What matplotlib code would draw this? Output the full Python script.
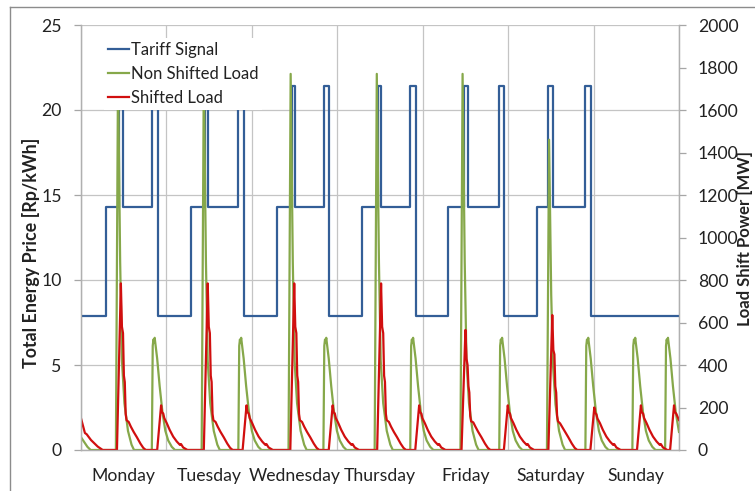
import matplotlib
matplotlib.use("Agg")
import matplotlib.pyplot as plt
from matplotlib.lines import Line2D

plt.rcParams['font.family'] = ['Lato', 'DejaVu Sans']

# ---------------- data ----------------
days = ['Monday', 'Tuesday', 'Wednesday', 'Thursday', 'Friday', 'Saturday', 'Sunday']

# Tariff signal: change points (hour of week) and price level from that hour on [Rp/kWh]
tariff_t = [0, 7.0, 10.75, 11.75, 20.0, 21.5,
            31.0, 34.9, 35.8, 44.2, 45.7,
            55.0, 59.3, 60.1, 68.3, 69.8,
            79.0, 83.3, 84.3, 92.5, 94.0,
            103.0, 107.6, 108.6, 117.4, 118.9,
            128.0, 131.2, 132.6, 141.6, 143.2,
            168]
tariff_price = [7.9, 14.3, 21.4, 14.3, 21.4, 7.9,
                14.3, 21.4, 14.3, 21.4, 7.9,
                14.3, 21.4, 14.3, 21.4, 7.9,
                14.3, 21.4, 14.3, 21.4, 7.9,
                14.3, 21.4, 14.3, 21.4, 7.9,
                14.3, 21.4, 14.3, 21.4, 7.9,
                7.9]

# Non shifted load [MW]
nonshifted_t = [0, 0.8, 1.8, 2.7,
                9.8, 10.4, 11.0, 11.5, 12.2, 13.2, 14.2, 14.9,
                19.9, 20.15, 20.35, 20.5, 20.7, 21.4, 22.1, 22.9, 23.7, 24.5, 25.5, 26.4,
                33.9, 34.5, 35.1, 35.6, 36.3, 37.3, 38.3, 39.0,
                44.2, 44.45, 44.65, 44.8, 45.0, 45.7, 46.4, 47.2, 48.0, 48.8, 49.8, 50.7,
                58.3, 58.9, 59.5, 60.0, 60.7, 61.7, 62.7, 63.4,
                68.1, 68.35, 68.55, 68.7, 68.9, 69.6, 70.3, 71.1, 71.9, 72.7, 73.7, 74.6,
                82.5, 83.1, 83.7, 84.2, 84.9, 85.9, 86.9, 87.6,
                92.5, 92.75, 92.95, 93.1, 93.3, 94.0, 94.7, 95.5, 96.3, 97.1, 98.1, 99.0,
                106.6, 107.2, 107.8, 108.3, 109.0, 110.0, 111.0, 111.7,
                117.5, 117.75, 117.95, 118.1, 118.3, 119.0, 119.7, 120.5, 121.3, 122.1, 123.1, 124.0,
                130.9, 131.5, 132.1, 132.6, 133.3, 134.3, 135.3, 136.0,
                141.7, 141.95, 142.15, 142.3, 142.5, 143.2, 143.9, 144.7, 145.5, 146.3, 147.3, 148.2,
                154.9, 155.15, 155.35, 155.5, 155.7, 156.4, 157.1, 157.9, 158.7, 159.5, 160.5, 161.4,
                164.1, 164.35, 164.55, 164.7, 164.9, 165.6, 166.3, 167.1, 168]
nonshifted_mw = [60, 40, 15, 0,
                 0, 1770, 885, 420, 220, 90, 25, 0,
                 0, 490, 520, 505, 528, 430, 300, 175, 90, 45, 15, 0,
                 0, 1770, 885, 420, 220, 90, 25, 0,
                 0, 490, 520, 505, 528, 430, 300, 175, 90, 45, 15, 0,
                 0, 1770, 885, 420, 220, 90, 25, 0,
                 0, 490, 520, 505, 528, 430, 300, 175, 90, 45, 15, 0,
                 0, 1770, 885, 420, 220, 90, 25, 0,
                 0, 490, 520, 505, 528, 430, 300, 175, 90, 45, 15, 0,
                 0, 1770, 885, 420, 220, 90, 25, 0,
                 0, 490, 520, 505, 528, 430, 300, 175, 90, 45, 15, 0,
                 0, 1460, 730, 400, 215, 90, 25, 0,
                 0, 490, 520, 505, 528, 430, 300, 175, 90, 45, 15, 0,
                 0, 490, 520, 505, 528, 430, 300, 175, 90, 45, 15, 0,
                 0, 490, 520, 505, 528, 430, 300, 175, 85]

# Shifted load [MW]
shifted_t = [0, 0.5, 1.1, 1.6, 2.8, 4.7, 6.1,
             10.1, 11.2, 11.5, 11.8, 12.05, 12.3, 12.55, 12.8, 13.4, 14.0, 14.8, 15.7, 16.7, 17.5, 18.2,
             21.4, 22.5, 22.75, 23.1, 23.4, 24.1, 24.9, 25.9, 26.9, 27.8, 28.1, 28.7, 29.9,
             34.5, 35.6, 35.9, 36.2, 36.45, 36.7, 36.95, 37.2, 37.8, 38.4, 39.2, 40.1, 41.1, 41.9, 42.6,
             45.4, 46.5, 46.75, 47.1, 47.4, 48.1, 48.9, 49.9, 50.9, 51.8, 52.1, 52.7, 53.9,
             58.8, 59.9, 60.2, 60.5, 60.75, 61.0, 61.25, 61.5, 62.1, 62.7, 63.5, 64.4, 65.4, 66.2, 66.9,
             69.6, 70.7, 70.95, 71.3, 71.6, 72.3, 73.1, 74.1, 75.1, 76.0, 76.3, 76.9, 78.1,
             83.2, 84.3, 84.6, 84.9, 85.15, 85.4, 85.65, 85.9, 86.5, 87.1, 87.9, 88.8, 89.8, 90.6, 91.3,
             93.9, 95.0, 95.25, 95.6, 95.9, 96.6, 97.4, 98.4, 99.4, 100.3, 100.6, 101.2, 102.4,
             106.9, 108.0, 108.3, 108.6, 108.85, 109.1, 109.35, 109.6, 110.2, 110.8, 111.6, 112.5, 113.5, 114.3, 115.0,
             118.8, 119.9, 120.15, 120.5, 120.8, 121.5, 122.3, 123.3, 124.3, 125.2, 125.5, 126.1, 127.3,
             131.3, 132.4, 132.7, 133.0, 133.25, 133.5, 133.75, 134.0, 134.6, 135.2, 136.0, 136.9, 137.9, 138.7, 139.4,
             143.1, 144.2, 144.45, 144.8, 145.1, 145.8, 146.6, 147.6, 148.6, 149.5, 149.8, 150.4, 151.6,
             156.2, 157.3, 157.55, 157.9, 158.2, 158.9, 159.7, 160.7, 161.7, 162.6, 162.9, 163.5, 164.7,
             165.5, 166.6, 166.85, 167.2, 168]
shifted_mw = [149, 118, 80, 74, 47, 16, 0,
              0, 784, 580, 550, 350, 320, 170, 140, 132, 110, 85, 60, 30, 10, 0,
              0, 210, 178, 172, 150, 126, 95, 63, 40, 24, 28, 12, 0,
              0, 784, 580, 550, 350, 320, 170, 140, 132, 110, 85, 60, 30, 10, 0,
              0, 210, 178, 172, 150, 126, 95, 63, 40, 24, 28, 12, 0,
              0, 784, 580, 550, 350, 320, 170, 140, 132, 110, 85, 60, 30, 10, 0,
              0, 210, 178, 172, 150, 126, 95, 63, 40, 24, 28, 12, 0,
              0, 784, 580, 550, 350, 320, 170, 140, 132, 110, 85, 60, 30, 10, 0,
              0, 210, 178, 172, 150, 126, 95, 63, 40, 24, 28, 12, 0,
              0, 565, 430, 400, 300, 270, 160, 135, 130, 110, 85, 60, 30, 10, 0,
              0, 210, 178, 172, 150, 126, 95, 63, 40, 24, 28, 12, 0,
              0, 635, 470, 450, 300, 270, 160, 135, 125, 108, 85, 60, 30, 10, 0,
              0, 200, 175, 168, 148, 126, 95, 63, 40, 24, 28, 12, 0,
              0, 210, 178, 172, 150, 126, 95, 63, 40, 24, 28, 12, 0,
              0, 210, 178, 172, 141]

price_ticks = [0, 5, 10, 15, 20, 25]
power_ticks = list(range(0, 2001, 200))

# ---------------- style ----------------
BLUE = '#335e97'
GREEN = '#86a84a'
RED = '#d10f0f'
GRID = '#c4c4c4'
TXT = '#222222'
FS_TICK = 12.7
FS_LEG = 12
FS_LAB = 12.9
FS_LAB_R = 12

W, H = 755, 491
fig = plt.figure(figsize=(W / 100, H / 100), dpi=100)
L, R, T, B = 81, 679, 25, 450
ax = fig.add_axes([L / W, 1 - B / H, (R - L) / W, (B - T) / H])
ax2 = ax.twinx()

ax.step(tariff_t, tariff_price, where='post', color=BLUE, lw=1.6,
        label='Tariff Signal', zorder=3)
ax2.plot(nonshifted_t, nonshifted_mw, color=GREEN, lw=1.6, label='Non Shifted Load')
ax2.plot(shifted_t, shifted_mw, color=RED, lw=1.6, label='Shifted Load')

ax.set_xlim(0, 168)
ax.set_ylim(0, 25)
ax2.set_ylim(0, 2000)

ax.set_xticks(range(0, 169, 24))
ax.set_xticklabels([])
ax.set_xticks([12 + 24 * i for i in range(7)], minor=True)
ax.set_xticklabels(days, minor=True)
ax.tick_params(axis='x', which='both', length=0)
ax.tick_params(axis='x', which='minor', pad=13, labelsize=FS_TICK, labelcolor=TXT)

ax.set_yticks(price_ticks)
ax.tick_params(axis='y', direction='out', length=5, width=0.9, color='#a6a6a6',
               pad=9, labelsize=FS_TICK, labelcolor=TXT)
ax2.set_yticks(power_ticks)
ax2.tick_params(axis='y', direction='out', length=5, width=0.9, color='#a6a6a6',
                pad=8.5, labelsize=FS_TICK, labelcolor=TXT)

ax.grid(True, which='major', color=GRID, lw=0.9)
ax.set_axisbelow(True)
for a in (ax, ax2):
    for s in a.spines.values():
        s.set_color('#b0b0b0')
        s.set_linewidth(0.9)
    a.spines['top'].set_visible(False)

fig.text(31 / W, 1 - 253 / H, 'Total Energy Price [Rp/kWh]', rotation=90,
         ha='center', va='center', fontsize=FS_LAB, fontweight='bold', color=TXT)
fig.text(745 / W, 1 - 238 / H, 'Load Shift Power [MW]', rotation=90,
         ha='center', va='center', fontsize=FS_LAB_R, fontweight='bold', color=TXT)

h1, l1 = ax.get_legend_handles_labels()
h2, l2 = ax2.get_legend_handles_labels()
leg = ax2.legend(h1 + h2, l1 + l2, loc='upper left',
                 bbox_to_anchor=((103.5 - L) / (R - L), (B - 38) / (B - T)),
                 borderaxespad=0, frameon=True, fancybox=False, edgecolor='none',
                 facecolor='white', framealpha=1, fontsize=FS_LEG, handlelength=1.26,
                 handletextpad=0.12, labelspacing=0.46, borderpad=0.25)
for t in leg.get_texts():
    t.set_color(TXT)

# outer chart-area border
fig.add_artist(Line2D([10 / W, 10 / W], [0, 1 - 7 / H], transform=fig.transFigure,
                      color='#8c8c8c', lw=1))
fig.add_artist(Line2D([10 / W, 1], [1 - 7 / H, 1 - 7 / H], transform=fig.transFigure,
                      color='#8c8c8c', lw=1))

fig.savefig('out.png', dpi=100)
